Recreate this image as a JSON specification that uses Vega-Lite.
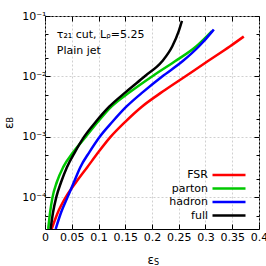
{
  "$schema": "https://vega.github.io/schema/vega-lite/v6.json",
  "width": 214,
  "height": 213,
  "autosize": {"type": "none"},
  "padding": {"left": 45, "top": 16, "right": 7, "bottom": 37},
  "config": {
    "font": "DejaVu Sans",
    "view": {"stroke": "black", "strokeWidth": 1},
    "axis": {
      "domain": false,
      "labelFont": "DejaVu Sans",
      "labelFontSize": 11,
      "labelColor": "black",
      "tickColor": "black",
      "tickWidth": 1,
      "gridColor": "#c4c4c4",
      "gridDash": [2, 2],
      "gridWidth": 0.8
    }
  },
  "data": {
    "values": [
      {"curve": "FSR", "eS": 0.0125, "eB": 3.0e-5},
      {"curve": "FSR", "eS": 0.024, "eB": 5.62e-5},
      {"curve": "FSR", "eS": 0.0386, "eB": 1.0e-4},
      {"curve": "FSR", "eS": 0.058, "eB": 1.78e-4},
      {"curve": "FSR", "eS": 0.079, "eB": 3.16e-4},
      {"curve": "FSR", "eS": 0.1, "eB": 5.62e-4},
      {"curve": "FSR", "eS": 0.1225, "eB": 1.0e-3},
      {"curve": "FSR", "eS": 0.15, "eB": 1.78e-3},
      {"curve": "FSR", "eS": 0.181, "eB": 3.16e-3},
      {"curve": "FSR", "eS": 0.22, "eB": 5.62e-3},
      {"curve": "FSR", "eS": 0.262, "eB": 1.0e-2},
      {"curve": "FSR", "eS": 0.304, "eB": 1.78e-2},
      {"curve": "FSR", "eS": 0.346, "eB": 3.16e-2},
      {"curve": "FSR", "eS": 0.3715, "eB": 4.57e-2},
      {"curve": "parton", "eS": 0.006, "eB": 3.0e-5},
      {"curve": "parton", "eS": 0.0095, "eB": 5.62e-5},
      {"curve": "parton", "eS": 0.014, "eB": 1.0e-4},
      {"curve": "parton", "eS": 0.022, "eB": 1.78e-4},
      {"curve": "parton", "eS": 0.034, "eB": 3.16e-4},
      {"curve": "parton", "eS": 0.053, "eB": 5.62e-4},
      {"curve": "parton", "eS": 0.076, "eB": 1.0e-3},
      {"curve": "parton", "eS": 0.099, "eB": 1.78e-3},
      {"curve": "parton", "eS": 0.124, "eB": 3.16e-3},
      {"curve": "parton", "eS": 0.16, "eB": 5.62e-3},
      {"curve": "parton", "eS": 0.2, "eB": 1.0e-2},
      {"curve": "parton", "eS": 0.243, "eB": 1.78e-2},
      {"curve": "parton", "eS": 0.283, "eB": 3.16e-2},
      {"curve": "parton", "eS": 0.312, "eB": 5.62e-2},
      {"curve": "hadron", "eS": 0.02, "eB": 3.0e-5},
      {"curve": "hadron", "eS": 0.03, "eB": 5.62e-5},
      {"curve": "hadron", "eS": 0.042, "eB": 1.0e-4},
      {"curve": "hadron", "eS": 0.054, "eB": 1.78e-4},
      {"curve": "hadron", "eS": 0.066, "eB": 3.16e-4},
      {"curve": "hadron", "eS": 0.083, "eB": 5.62e-4},
      {"curve": "hadron", "eS": 0.102, "eB": 1.0e-3},
      {"curve": "hadron", "eS": 0.126, "eB": 1.78e-3},
      {"curve": "hadron", "eS": 0.152, "eB": 3.16e-3},
      {"curve": "hadron", "eS": 0.184, "eB": 5.62e-3},
      {"curve": "hadron", "eS": 0.219, "eB": 1.0e-2},
      {"curve": "hadron", "eS": 0.257, "eB": 1.78e-2},
      {"curve": "hadron", "eS": 0.288, "eB": 3.16e-2},
      {"curve": "hadron", "eS": 0.313, "eB": 5.62e-2},
      {"curve": "hadron", "eS": 0.3156, "eB": 6.0e-2},
      {"curve": "full", "eS": 0.0105, "eB": 3.0e-5},
      {"curve": "full", "eS": 0.015, "eB": 5.62e-5},
      {"curve": "full", "eS": 0.021, "eB": 1.0e-4},
      {"curve": "full", "eS": 0.03, "eB": 1.78e-4},
      {"curve": "full", "eS": 0.041, "eB": 3.16e-4},
      {"curve": "full", "eS": 0.056, "eB": 5.62e-4},
      {"curve": "full", "eS": 0.073, "eB": 1.0e-3},
      {"curve": "full", "eS": 0.095, "eB": 1.78e-3},
      {"curve": "full", "eS": 0.12, "eB": 3.16e-3},
      {"curve": "full", "eS": 0.152, "eB": 5.62e-3},
      {"curve": "full", "eS": 0.186, "eB": 1.0e-2},
      {"curve": "full", "eS": 0.219, "eB": 1.78e-2},
      {"curve": "full", "eS": 0.238, "eB": 3.16e-2},
      {"curve": "full", "eS": 0.25, "eB": 5.62e-2},
      {"curve": "full", "eS": 0.256, "eB": 8.3e-2}
    ]
  },
  "layer": [
    {
      "mark": {"type": "line", "strokeWidth": 2.5, "interpolate": "monotone", "clip": true},
      "encoding": {
        "x": {
          "field": "eS", "type": "quantitative",
          "scale": {"domain": [0, 0.4], "nice": false, "zero": false},
          "axis": {
            "orient": "bottom", "title": null,
            "values": [0, 0.05, 0.1, 0.15, 0.2, 0.25, 0.3, 0.35, 0.4],
            "format": "~g", "tickSize": -5, "labelPadding": 7,
            "labelFlush": false, "labelOverlap": false, "grid": true
          }
        },
        "y": {
          "field": "eB", "type": "quantitative",
          "scale": {"type": "log", "domain": [3e-5, 0.1], "nice": false},
          "axis": {
            "orient": "left", "title": null,
            "values": [5e-5, 1e-4, 2e-4, 5e-4, 0.001, 0.002, 0.005, 0.01, 0.02, 0.05, 0.1],
            "labelExpr": "datum.value == 0.1 ? '10⁻¹' : datum.value == 0.01 ? '10⁻²' : datum.value == 0.001 ? '10⁻³' : datum.value == 0.0001 ? '10⁻⁴' : ''",
            "tickSize": {"condition": {"test": "datum.value == 0.1 || datum.value == 0.01 || datum.value == 0.001 || datum.value == 0.0001", "value": -5}, "value": -3},
            "gridOpacity": {"condition": {"test": "datum.value == 0.1 || datum.value == 0.01 || datum.value == 0.001 || datum.value == 0.0001", "value": 1}, "value": 0},
            "labelPadding": 4, "labelFlush": false, "labelOverlap": false, "grid": true
          }
        },
        "color": {
          "field": "curve", "type": "nominal",
          "scale": {"domain": ["FSR", "parton", "hadron", "full"], "range": ["#ff0000", "#00c800", "#0000ff", "#000000"]},
          "legend": {
            "orient": "bottom-right", "offset": 8, "title": null,
            "symbolType": "M-3,0H3", "symbolSize": 121, "symbolStrokeWidth": 2.5,
            "labelAlign": "right", "labelOffset": -28, "labelFontSize": 11,
            "labelFont": "DejaVu Sans", "labelColor": "black", "rowPadding": 1.5, "padding": 0, "labelLimit": 0
          }
        }
      }
    },
    {
      "mark": {"type": "line", "opacity": 0},
      "encoding": {
        "x": {
          "field": "eS", "type": "quantitative",
          "scale": {"domain": [0, 0.4], "nice": false, "zero": false},
          "axis": {
            "orient": "top", "title": null, "labels": false, "grid": false,
            "values": [0, 0.05, 0.1, 0.15, 0.2, 0.25, 0.3, 0.35, 0.4], "tickSize": -5
          }
        },
        "y": {
          "field": "eB", "type": "quantitative",
          "scale": {"type": "log", "domain": [3e-5, 0.1], "nice": false},
          "axis": {
            "orient": "right", "title": null, "labels": false, "grid": false,
            "values": [5e-5, 1e-4, 2e-4, 5e-4, 0.001, 0.002, 0.005, 0.01, 0.02, 0.05, 0.1],
            "tickSize": {"condition": {"test": "datum.value == 0.1 || datum.value == 0.01 || datum.value == 0.001 || datum.value == 0.0001", "value": -5}, "value": -3}
          }
        },
        "detail": {"field": "curve", "type": "nominal"}
      }
    },
    {
      "data": {"values": [{}]},
      "mark": {"type": "text", "align": "left", "baseline": "middle", "fontSize": 11, "font": "DejaVu Sans", "color": "black"},
      "encoding": {
        "x": {"datum": 0.022, "type": "quantitative", "scale": {"domain": [0, 0.4], "nice": false, "zero": false}, "axis": null},
        "y": {"datum": 0.0485, "type": "quantitative", "scale": {"type": "log", "domain": [3e-5, 0.1], "nice": false}, "axis": null},
        "text": {"value": "τ₂₁ cut, Lᵨ=5.25"}
      }
    },
    {
      "data": {"values": [{}]},
      "mark": {"type": "text", "align": "left", "baseline": "middle", "fontSize": 11, "font": "DejaVu Sans", "color": "black"},
      "encoding": {
        "x": {"datum": 0.022, "type": "quantitative", "scale": {"domain": [0, 0.4], "nice": false, "zero": false}, "axis": null},
        "y": {"datum": 0.0264, "type": "quantitative", "scale": {"type": "log", "domain": [3e-5, 0.1], "nice": false}, "axis": null},
        "text": {"value": "Plain jet"}
      }
    },
    {
      "data": {"values": [{}]},
      "mark": {"type": "text", "align": "right", "baseline": "middle", "fontSize": 12, "font": "DejaVu Sans", "color": "black", "dx": 2},
      "encoding": {
        "x": {"datum": 0.2, "type": "quantitative", "scale": {"domain": [0, 0.4], "nice": false, "zero": false}, "axis": null},
        "y": {"datum": 9.2e-6, "type": "quantitative", "scale": {"type": "log", "domain": [3e-5, 0.1], "nice": false}, "axis": null},
        "text": {"value": "ε"}
      }
    },
    {
      "data": {"values": [{}]},
      "mark": {"type": "text", "align": "left", "baseline": "middle", "fontSize": 8, "font": "DejaVu Sans", "color": "black", "dx": 2, "dy": 2.5},
      "encoding": {
        "x": {"datum": 0.2, "type": "quantitative", "scale": {"domain": [0, 0.4], "nice": false, "zero": false}, "axis": null},
        "y": {"datum": 9.2e-6, "type": "quantitative", "scale": {"type": "log", "domain": [3e-5, 0.1], "nice": false}, "axis": null},
        "text": {"value": "S"}
      }
    },
    {
      "data": {"values": [{}]},
      "mark": {"type": "text", "align": "right", "baseline": "middle", "fontSize": 12, "font": "DejaVu Sans", "color": "black", "angle": 270, "dx": 2},
      "encoding": {
        "x": {"datum": -0.068, "type": "quantitative", "scale": {"domain": [0, 0.4], "nice": false, "zero": false}, "axis": null},
        "y": {"datum": 0.0016, "type": "quantitative", "scale": {"type": "log", "domain": [3e-5, 0.1], "nice": false}, "axis": null},
        "text": {"value": "ε"}
      }
    },
    {
      "data": {"values": [{}]},
      "mark": {"type": "text", "align": "left", "baseline": "middle", "fontSize": 8, "font": "DejaVu Sans", "color": "black", "angle": 270, "dx": 2, "dy": 2.5},
      "encoding": {
        "x": {"datum": -0.068, "type": "quantitative", "scale": {"domain": [0, 0.4], "nice": false, "zero": false}, "axis": null},
        "y": {"datum": 0.0016, "type": "quantitative", "scale": {"type": "log", "domain": [3e-5, 0.1], "nice": false}, "axis": null},
        "text": {"value": "B"}
      }
    }
  ],
  "resolve": {"axis": {"x": "independent", "y": "independent"}}
}
